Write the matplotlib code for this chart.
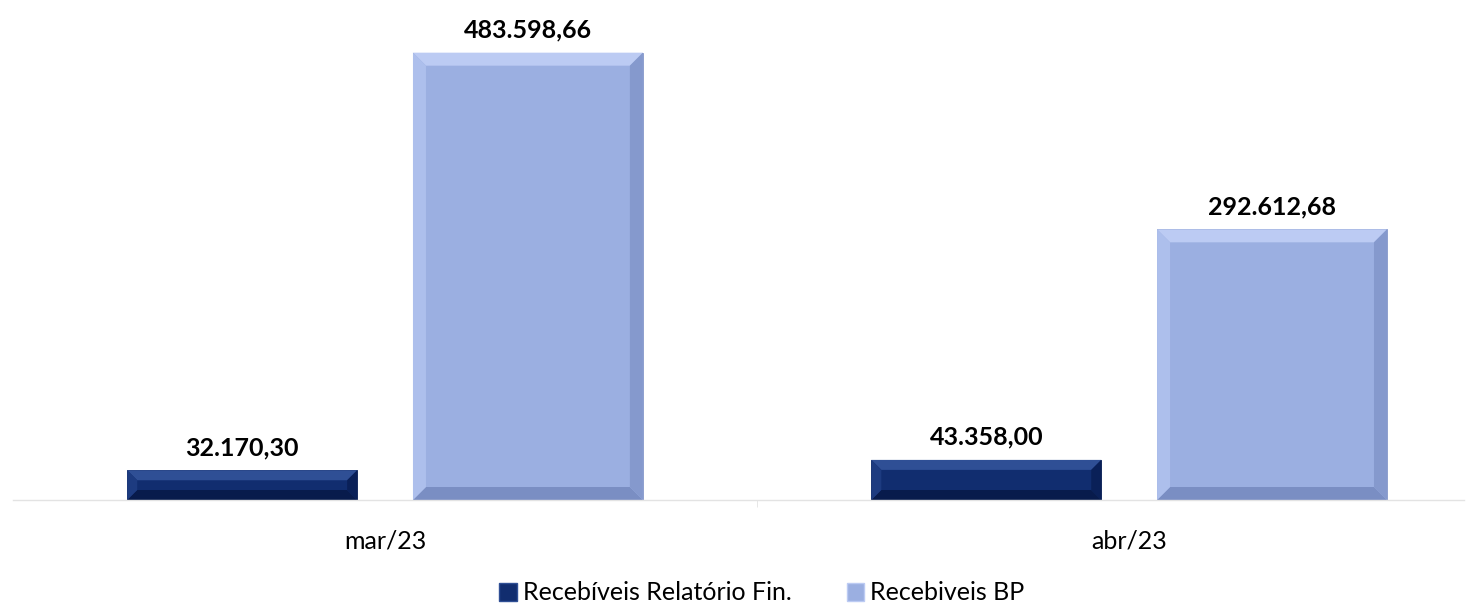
import numpy as np
import matplotlib.pyplot as plt
from matplotlib.patches import Polygon, Rectangle

categories = ["mar/23", "abr/23"]
relatorio_fin = [32170.30, 43358.00]
recebiveis_bp = [483598.66, 292612.68]
labels_fin = ["32.170,30", "43.358,00"]
labels_bp = ["483.598,66", "292.612,68"]
series_names = ["Recebíveis Relatório Fin.", "Recebiveis BP"]

plt.rcParams['font.family'] = ['Lato', 'DejaVu Sans']

W, H = 1479, 603
fig = plt.figure(figsize=(W / 100, H / 100), dpi=100)
# axes placed in pixel terms: baseline at y=500, top at y=19
left_px, right_px = 13, 1464
bot_px, top_px = 500, 19
ax = fig.add_axes([left_px / W, 1 - bot_px / H, (right_px - left_px) / W, (bot_px - top_px) / H])

x = np.arange(len(categories))
width = 0.309
off = 0.192

dark = dict(face="#112d6f", top="#2f4f95", left="#1d3b80", right="#0a2058", bottom="#081b4c")
light = dict(face="#9bafe1", top="#bccbf3", left="#adbfec", right="#8599cd", bottom="#7a8ec3")

bars1 = ax.bar(x - off, relatorio_fin, width, color=dark["face"], edgecolor="#0a1f55", linewidth=0.6)
bars2 = ax.bar(x + off, recebiveis_bp, width, color=light["face"], edgecolor="#8597c9", linewidth=0.6)

ax.set_xlim(-0.5, 1.45)
ax.set_ylim(0, 520000)

fig.canvas.draw()
inv = ax.transData.inverted()


def bevel(bar, cols, b=12):
    (x0, y0) = ax.transData.transform((bar.get_x(), 0))
    (x1, y1) = ax.transData.transform((bar.get_x() + bar.get_width(), bar.get_height()))
    bb = min(b, (y1 - y0) / 2.2)
    quads = {
        "top": [(x0, y1), (x1, y1), (x1 - bb, y1 - bb), (x0 + bb, y1 - bb)],
        "bottom": [(x0, y0), (x1, y0), (x1 - bb, y0 + bb), (x0 + bb, y0 + bb)],
        "left": [(x0, y0), (x0, y1), (x0 + bb, y1 - bb), (x0 + bb, y0 + bb)],
        "right": [(x1, y0), (x1, y1), (x1 - bb, y1 - bb), (x1 - bb, y0 + bb)],
    }
    for k, pts in quads.items():
        ax.add_patch(Polygon(inv.transform(pts), closed=True, facecolor=cols[k],
                             edgecolor="none", zorder=2.5))


for b in bars1:
    bevel(b, dark, 10)
for b in bars2:
    bevel(b, light, 13)

for bars, labs in ((bars1, labels_fin), (bars2, labels_bp)):
    for b, lab in zip(bars, labs):
        ax.annotate(lab, (b.get_x() + b.get_width() / 2, b.get_height()),
                    xytext=(0, 8), textcoords="offset points", ha="center", va="bottom",
                    fontsize=18, fontweight="bold", color="black")

for s in ["top", "right", "left"]:
    ax.spines[s].set_visible(False)
ax.spines["bottom"].set_color("#e3e3e3")
ax.spines["bottom"].set_linewidth(1.0)
ax.set_yticks([])
ax.set_xticks(x)
ax.set_xticklabels(categories, fontsize=18)
ax.tick_params(axis="x", length=0, pad=21)
ax.set_xticks([0.5], minor=True)
ax.tick_params(axis="x", which="minor", length=5, color="#e3e3e3")

handles = [Rectangle((0, 0), 1, 1, facecolor=dark["face"], edgecolor=dark["top"]),
           Rectangle((0, 0), 1, 1, facecolor=light["face"], edgecolor=light["top"])]
fig.legend(handles, series_names, loc="center", bbox_to_anchor=(762 / W, 1 - 593 / H),
           ncol=2, frameon=False, fontsize=18, handlelength=0.7, handleheight=0.7,
           handletextpad=0.25, columnspacing=2.2, borderpad=0.1)

fig.savefig("out.png", dpi=100)
